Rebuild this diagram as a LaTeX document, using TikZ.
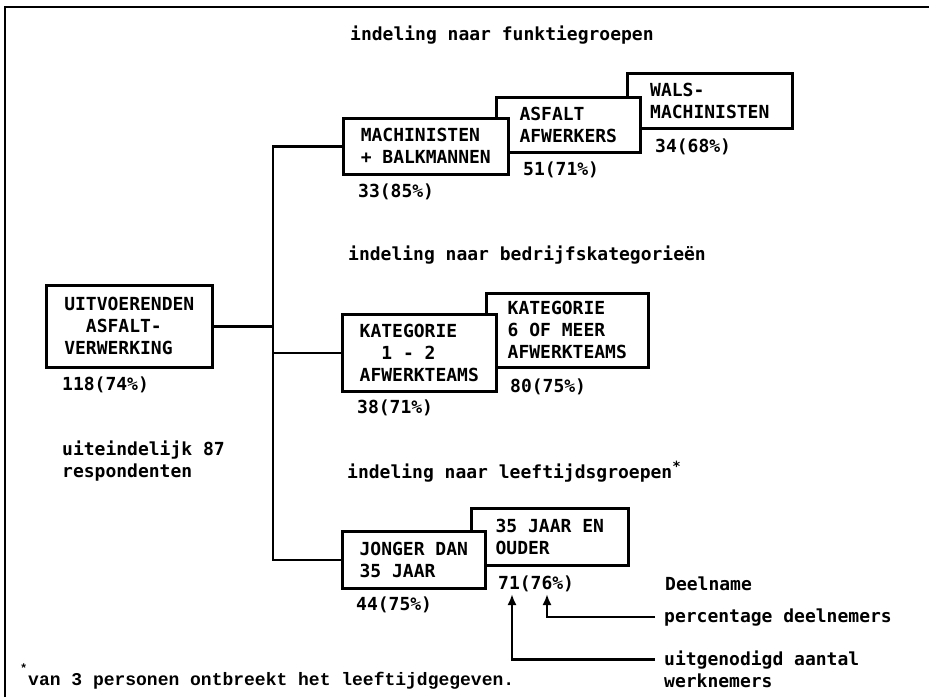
\documentclass[tikz,border=0pt]{standalone}
\usepackage{fontspec}
\setmonofont{DejaVu Sans Mono}
\newfontfamily\voetfont{Liberation Mono}
\usetikzlibrary{arrows.meta}

\tikzset{
  kader/.style={draw, line width=2.6pt, fill=white, anchor=north west,
    align=left, inner sep=0pt},
  tekst/.style={anchor=base west, inner sep=0pt},
  lijn/.style={line width=2.6pt},
  pijl/.style={line width=2.6pt, -{Latex[length=11pt,width=9pt]}},
}

\begin{document}
\begin{tikzpicture}[x=1pt, y=-1pt,
    font=\ttfamily\bfseries\fontsize{18}{22}\selectfont]
  \useasboundingbox (0,0) rectangle (930,697);
  \draw[lijn] (5,697) -- (5,7) -- (929,7);

  % functiegroepen
  \node[tekst] (kop1) at (350,40) {indeling naar funktiegroepen};
  \node[kader, minimum width=165, minimum height=55] (wals) at (626,72) {WALS-\\MACHINISTEN};
  \node[kader, minimum width=144, minimum height=55] (asf) at (495,96) {ASFALT\\AFWERKERS};
  \node[kader, minimum width=165, minimum height=56] (mach) at (342,117) {MACHINISTEN\\+ BALKMANNEN};
  \node[tekst] (machN) at (358,197) {33(85\%)};
  \node[tekst] (asfN) at (523,175) {51(71\%)};
  \node[tekst] (walsN) at (655,152) {34(68\%)};

  % bedrijfskategorieen
  \node[tekst] (kop2) at (348,260) {indeling naar bedrijfskategorieën};
  \node[kader, minimum width=162, minimum height=74] (kat6) at (485,292) {KATEGORIE\\6 OF MEER\\AFWERKTEAMS};
  \node[kader, minimum width=154, minimum height=77] (kat1) at (341,313) {KATEGORIE\\\phantom{AA}1 - 2\\AFWERKTEAMS};
  \node[tekst] (kat1N) at (357,413) {38(71\%)};
  \node[tekst] (kat6N) at (510,392) {80(75\%)};

  % leeftijdsgroepen
  \node[tekst] (kop3) at (347,478) {indeling naar leeftijdsgroepen\raisebox{7pt}{\fontsize{14}{14}\selectfont*}};
  \node[kader, minimum width=157, minimum height=57] (oud) at (470,507) {35 JAAR EN\\OUDER};
  \node[kader, minimum width=143, minimum height=57] (jong) at (341,530) {JONGER DAN\\35 JAAR};
  \node[tekst] (jongN) at (356,610) {44(75\%)};
  \node[tekst] (oudN) at (498,589) {71(76\%)};

  % totaal
  \node[kader, minimum width=166, minimum height=82] (uit) at (45,284) {UITVOERENDEN\\\phantom{AA}ASFALT-\\VERWERKING};
  \node[tekst] (uitN) at (62,390) {118(74\%)};
  \node[tekst] (resp1) at (62,455) {uiteindelijk 87};
  \node[tekst] (resp2) at (62,477) {respondenten};

  \coordinate (split) at (273,328);
  \draw[lijn] (uit.east) -- (uit.east -| split);
  \draw[lijn] (mach.west) -| (split) |- (jong.west);
  \draw[lijn] (kat1.west) -- (kat1.west -| split);

  % legenda
  \node[tekst] (deel) at (665,590) {Deelname};
  \node[tekst, inner xsep=9pt] (pct) at (655,622) {percentage deelnemers};
  \node[tekst, inner xsep=9pt] (uitg) at (655,665) {uitgenodigd aantal};
  \node[tekst] (werkn) at (664,687) {werknemers};
  \coordinate (tipA) at (512,594);
  \coordinate (tipB) at (547,594);
  \draw[pijl] (pct.west) -| (tipB);
  \draw[pijl] (uitg.west) -| (tipA);

  % voetnoot
  \node[tekst, font=\voetfont\bfseries\fontsize{12}{12}\selectfont] (ster) at (20,672) {*};
  \node[tekst, font=\voetfont\bfseries\fontsize{18}{22}\selectfont] (voet) at (28,685) {van 3 personen ontbreekt het leeftijdgegeven.};
\end{tikzpicture}
\end{document}
